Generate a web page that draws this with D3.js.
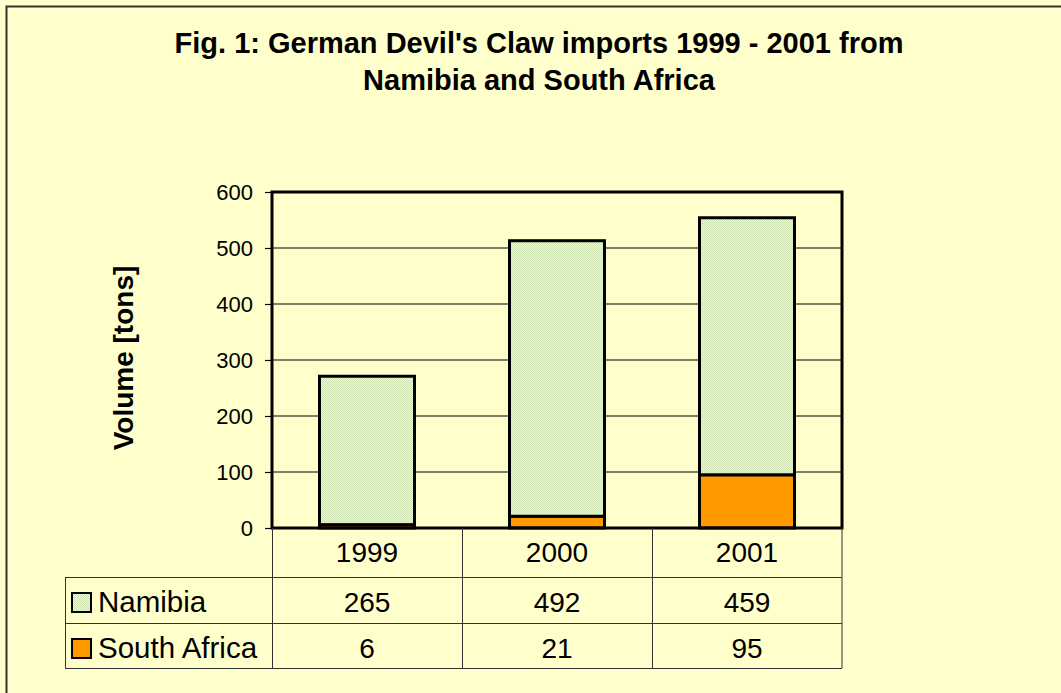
<!DOCTYPE html>
<html>
<head>
<meta charset="utf-8">
<script src="https://cdn.jsdelivr.net/npm/d3@7"></script>
<style>
  html, body { margin: 0; padding: 0; background: #FFFFCC; }
  svg { display: block; font-family: Arial, "Liberation Sans", sans-serif; }
</style>
</head>
<body>
<svg id="chart" width="1061" height="693"></svg>
<script>
// data
const years = ["1999", "2000", "2001"];
const namibia = [265, 492, 459];
const southAfrica = [6, 21, 95];
const seriesNames = ["Namibia", "South Africa"];
const yTicks = [0, 100, 200, 300, 400, 500, 600];
const titleLines = ["Fig. 1: German Devil's Claw imports 1999 - 2001 from", "Namibia and South Africa"];

const svg = d3.select('#chart');
const W = +svg.attr('width');
const H = +svg.attr('height');

// background + frame (right and bottom edge run off the page)
svg.append('rect').attr('width', W).attr('height', H).attr('fill', '#FFFFCC');
svg.append('rect')
  .attr('x', 6.5).attr('y', 6.5)
  .attr('width', W + 20).attr('height', H + 20)
  .attr('fill', 'none').attr('stroke', '#333').attr('stroke-width', 2);

// pattern for the Namibia bars
const defs = svg.append('defs');
const pat = defs.append('pattern')
  .attr('id', 'dots').attr('width', 2).attr('height', 2)
  .attr('patternUnits', 'userSpaceOnUse');
pat.append('rect').attr('width', 2).attr('height', 2).attr('fill', '#EEF6D6');
pat.append('rect').attr('width', 1).attr('height', 1).attr('fill', '#CFE3B4');
pat.append('rect').attr('x', 1).attr('y', 1).attr('width', 1).attr('height', 1).attr('fill', '#CFE3B4');

const fills = { 'Namibia': 'url(#dots)', 'South Africa': '#FF9900' };

// title
svg.append('g').selectAll('text')
  .data(titleLines)
  .enter()
  .append('text')
  .attr('x', 539)
  .attr('y', (d, i) => 53 + i * 37)
  .attr('text-anchor', 'middle')
  .style('font-size', '29px')
  .style('font-weight', 'bold')
  .text(d => d);

const pLeft = 272, pRight = 842, pTop = 192, pBottom = 528;

const x = d3.scaleBand().domain(years).range([pLeft, pRight]).paddingInner(0.5).paddingOuter(0.25);
const xCell = d3.scaleBand().domain(years).range([pLeft, pRight]);
const y = d3.scaleLinear().domain([0, 600]).range([pBottom, pTop]);

// gridlines
svg.append('g').selectAll('line')
  .data(yTicks.filter(t => t > 0 && t < 600))
  .enter()
  .append('line')
  .attr('x1', pLeft).attr('x2', pRight)
  .attr('y1', d => y(d)).attr('y2', d => y(d))
  .attr('stroke', '#000').attr('stroke-width', 1.2);

// y axis
const yAxis = svg.append('g')
  .attr('transform', `translate(${pLeft},0)`)
  .call(d3.axisLeft(y).tickValues(yTicks).tickSize(7).tickPadding(12));
yAxis.select('.domain').remove();
yAxis.selectAll('.tick line').attr('stroke', '#000').attr('stroke-width', 1.2);
yAxis.selectAll('.tick text')
  .style('font-size', '22px')
  .style('font-family', 'Arial, "Liberation Sans", sans-serif')
  .attr('fill', '#000');

svg.append('text')
  .attr('transform', `translate(133,${(pTop + pBottom) / 2 - 2}) rotate(-90)`)
  .attr('text-anchor', 'middle')
  .style('font-size', '28px')
  .style('font-weight', 'bold')
  .text('Volume [tons]');

// stacked bars, South Africa at the bottom
const stacked = years.map((yr, i) => ({ year: yr, Namibia: namibia[i], 'South Africa': southAfrica[i] }));
const stack = d3.stack().keys(['South Africa', 'Namibia'])(stacked);

svg.append('g').selectAll('g')
  .data(stack)
  .enter()
  .append('g')
  .attr('fill', d => fills[d.key])
  .selectAll('rect')
  .data(d => d)
  .enter()
  .append('rect')
  .attr('x', d => x(d.data.year))
  .attr('y', d => y(d[1]))
  .attr('width', x.bandwidth())
  .attr('height', d => y(d[0]) - y(d[1]))
  .attr('stroke', '#000')
  .attr('stroke-width', 3);

// plot border (left axis, top, right, bottom axis)
svg.append('rect')
  .attr('x', pLeft).attr('y', pTop)
  .attr('width', pRight - pLeft).attr('height', pBottom - pTop)
  .attr('fill', 'none').attr('stroke', '#000').attr('stroke-width', 3);

// data table
const tableLeft = 65;
const rowEdges = [pBottom, 577, 623, 668];
const table = svg.append('g').attr('stroke', '#333').attr('stroke-width', 1);

rowEdges.slice(1).forEach(r => {
  table.append('line').attr('x1', tableLeft).attr('x2', pRight).attr('y1', r + 0.5).attr('y2', r + 0.5);
});
table.append('line').attr('x1', tableLeft + 0.5).attr('x2', tableLeft + 0.5).attr('y1', rowEdges[1]).attr('y2', rowEdges[3]);
years.forEach(yr => {
  const cx = Math.round(xCell(yr)) + 0.5;
  table.append('line').attr('x1', cx).attr('x2', cx).attr('y1', pBottom).attr('y2', rowEdges[3]);
});
table.append('line').attr('x1', pRight).attr('x2', pRight).attr('y1', pBottom).attr('y2', rowEdges[3]);

// year labels
svg.append('g').selectAll('text')
  .data(years)
  .enter()
  .append('text')
  .attr('x', d => xCell(d) + xCell.bandwidth() / 2)
  .attr('y', 562)
  .attr('text-anchor', 'middle')
  .style('font-size', '28px')
  .text(d => d);

// series rows
const rows = [namibia, southAfrica];
const baselines = [612, 658];
rows.forEach((vals, r) => {
  svg.append('rect')
    .attr('x', 72).attr('y', baselines[r] - 19)
    .attr('width', 19).attr('height', 19)
    .attr('fill', fills[seriesNames[r]]).attr('stroke', '#000').attr('stroke-width', 2);
  svg.append('text')
    .attr('x', 98).attr('y', baselines[r])
    .style('font-size', '29.5px')
    .text(seriesNames[r]);
  svg.append('g').selectAll('text')
    .data(vals)
    .enter()
    .append('text')
    .attr('x', (d, i) => xCell(years[i]) + xCell.bandwidth() / 2)
    .attr('y', baselines[r])
    .attr('text-anchor', 'middle')
    .style('font-size', '28px')
    .text(d => d);
});
</script>
</body>
</html>
